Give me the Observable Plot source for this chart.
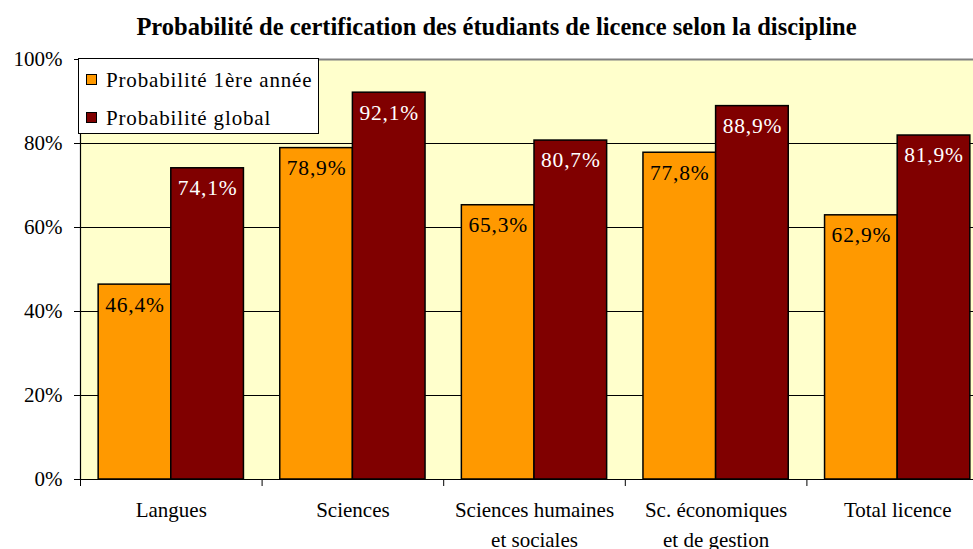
<!DOCTYPE html>
<html>
<head>
<meta charset="utf-8">
<script src="https://cdn.jsdelivr.net/npm/d3@7"></script>
<script src="https://cdn.jsdelivr.net/npm/@observablehq/plot@0.6"></script>
<style>
  html, body { margin: 0; padding: 0; background: #fff; overflow: hidden; }
  body { width: 973px; height: 549px; position: relative; font-family: "Liberation Serif", "Times New Roman", serif; }
  #title { height: 45px; line-height: 40px; padding-top: 7px; box-sizing: border-box; text-align: center; font-weight: bold; font-size: 24.5px; padding-left: 20px; white-space: nowrap; }
  #chart svg { display: block; max-width: none; }
  #chart g[aria-label="text"] text { letter-spacing: 0.8px; }
  #legend { position: absolute; left: 78px; top: 58px; width: 241px; height: 76px; box-sizing: border-box; border: 1px solid #000; background: #fff; font-size: 21px; }
  .item { position: absolute; left: 0; width: 100%; height: 24px; }
  .sw { position: absolute; left: 7px; top: 6px; width: 11px; height: 11px; box-sizing: border-box; border: 1px solid #000; }
  .lab { position: absolute; left: 27px; top: 0; line-height: 24px; white-space: nowrap; letter-spacing: 0.85px; }
</style>
</head>
<body>
<div id="title">Probabilité de certification des étudiants de licence selon la discipline</div>
<div id="chart"></div>
<div id="legend"></div>
<script>
const categories = ["Langues", "Sciences", "Sciences humaines\net sociales", "Sc. économiques\net de gestion", "Total licence"];
const seriesNames = ["Probabilité 1ère année", "Probabilité global"];
const firstYear = [0.464, 0.789, 0.653, 0.778, 0.629];
const overall = [0.741, 0.921, 0.807, 0.889, 0.819];
const yTicks = [0, 0.2, 0.4, 0.6, 0.8, 1];
const colors = ["#FF9900", "#800000"];
const labelColors = ["#000000", "#FFFFFF"];

const rows = [];
categories.forEach((c, i) => {
  [firstYear, overall].forEach((vals, s) => {
    rows.push({cat: c, i, s, series: seriesNames[s], value: vals[i]});
  });
});
const pad = 0.1, bw = 0.4;
const x1 = d => d.i + pad + d.s * bw;
const x2 = d => d.i + pad + (d.s + 1) * bw;
const xm = d => d.i + pad + (d.s + 0.5) * bw;
const centers = categories.map((c, i) => i + 0.5);
const bounds = d3.range(categories.length + 1);
const fmtPct = d3.format(".0%");
const fmtVal = d => d3.format(".1f")(d * 100).replace(".", ",") + "%";

const plot = Plot.plot({
  width: 973,
  height: 504,
  marginLeft: 80,
  marginRight: 0,
  marginTop: 14,
  marginBottom: 70,
  style: {fontFamily: "'Liberation Serif', 'Times New Roman', serif", fontSize: "21px", color: "#000", background: "transparent"},
  x: {type: "linear", domain: [0, categories.length], range: [80, 988], label: null},
  y: {domain: [0, 1], label: null},
  color: {domain: seriesNames, range: colors},
  marks: [
    Plot.frame({fill: "#FFFFCC", stroke: null}),
    Plot.ruleY([0.2, 0.4, 0.6, 0.8], {stroke: "#000", strokeWidth: 1}),
    Plot.ruleY([1], {stroke: "#808080", strokeWidth: 2}),
    Plot.rectY(rows, {x1, x2, y1: 0, y2: "value", fill: "series", stroke: "#000", strokeWidth: 1.5}),
    Plot.text(rows, {x: xm, y: "value", text: d => fmtVal(d.value), fill: d => labelColors[d.s], dy: 20, fontSize: 21.5}),
    Plot.ruleX([0], {stroke: "#000", strokeWidth: 1.2}),
    Plot.ruleY([0], {stroke: "#000", strokeWidth: 1.2}),
    Plot.axisY({ticks: yTicks, tickFormat: fmtPct, tickSize: 6, tickPadding: 12, fontSize: 21, label: null, stroke: "#000", strokeOpacity: 1}),
    Plot.axisX(bounds, {tickSize: 7, tickFormat: () => "", label: null, strokeOpacity: 1}),
    Plot.axisX(centers, {tickSize: 0, tickPadding: 16, tickFormat: d => categories[Math.floor(d)], label: null, fontSize: 21, lineHeight: 1.43})
  ]
});
document.getElementById("chart").appendChild(plot);

const legend = document.getElementById("legend");
seriesNames.forEach((name, s) => {
  const item = document.createElement("div");
  item.className = "item";
  item.style.top = (s === 0 ? 9 : 47) + "px";
  const sw = document.createElement("span");
  sw.className = "sw";
  sw.style.background = colors[s];
  const lab = document.createElement("span");
  lab.className = "lab";
  lab.textContent = name;
  item.appendChild(sw);
  item.appendChild(lab);
  legend.appendChild(item);
});
</script>
</body>
</html>
